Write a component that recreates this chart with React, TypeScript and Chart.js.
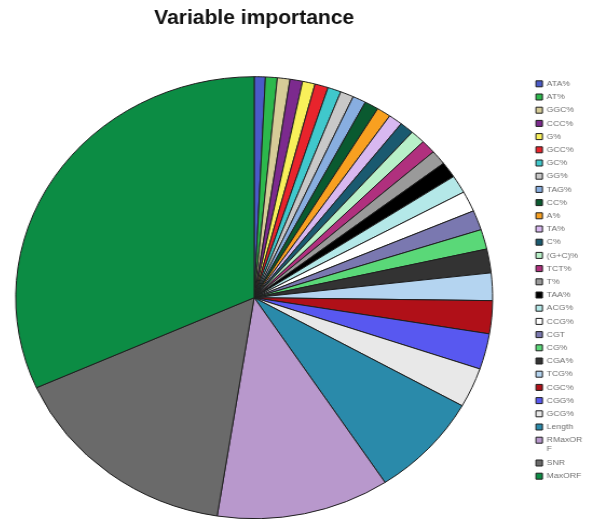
import { useEffect, useRef } from "react";
import { Chart, registerables } from "chart.js";

Chart.register(...registerables);

// Predictor names, in drawing order (clockwise from 12 o'clock)
const features: (string | string[])[] = [
  "ATA%", "AT%", "GGC%", "CCC%", "G%", "GCC%", "GC%", "GG%", "TAG%", "CC%",
  "A%", "TA%", "C%", "(G+C)%", "TCT%", "T%", "TAA%", "ACG%", "CCG%", "CGT",
  "CG%", "CGA%", "TCG%", "CGC%", "CGG%", "GCG%", "Length", ["RMaxOR", "F"], "SNR", "MaxORF",
];

// Relative importance of each predictor (%)
const importance = [
  0.75, 0.8, 0.85, 0.85, 0.85, 0.9, 0.9, 0.9, 0.9, 0.95,
  0.95, 0.95, 0.95, 1.0, 1.0, 1.06, 1.17, 1.3, 1.5, 1.44,
  1.44, 1.74, 2.0, 2.4, 2.6, 2.9, 7.6, 11.7, 15.8, 31.6,
];

const sliceColors = [
  "#4a5ac8", "#2cb84c", "#d6cc98", "#7c2a8e", "#f8f05a", "#e8242c", "#40c8cc", "#c8c8c8", "#88aee0", "#0a5a30",
  "#f8a020", "#d8b8f0", "#1a5a70", "#b8f0c8", "#b0307e", "#9a9a9a", "#000000", "#b4e8e8", "#ffffff", "#7a78b0",
  "#5ad878", "#333333", "#b4d4f0", "#b01018", "#5858f0", "#e8e8e8", "#2a8aaa", "#b898cc", "#6a6a6a", "#0c8c44",
];

// The figure is drawn on a 548-unit-wide layout and shown 590px wide.
// Hidden strips on both sides place the plot area and the legend.
const SCALE = 590 / 548;
const HIDDEN_LEFT = 20;
const HIDDEN_RIGHT = 2.8;
const DRAW_W = 548 + HIDDEN_LEFT + HIDDEN_RIGHT;
const DRAW_H = 560;

export default function App() {
  const canvasRef = useRef<HTMLCanvasElement>(null);

  useEffect(() => {
    const canvas = canvasRef.current;
    if (!canvas) return;
    const chart = new Chart(canvas, {
      type: "pie",
      data: {
        labels: features,
        datasets: [
          {
            data: importance,
            backgroundColor: sliceColors,
            borderColor: "#1e1e1e",
            borderWidth: 1,
            radius: 221,
          },
        ],
      },
      options: {
        responsive: false,
        animation: false,
        devicePixelRatio: 1,
        layout: { padding: 0 },
        plugins: {
          title: {
            display: true,
            text: "Variable importance",
            fullSize: false,
            color: "#111",
            font: { family: "Liberation Sans", size: 19.5, weight: "bold", lineHeight: 1.2 },
            padding: { top: 7, bottom: 5 },
          },
          legend: {
            position: "right",
            align: "center",
            labels: {
              boxWidth: 6,
              boxHeight: 6,
              padding: 5.2,
              color: "#6e6e6e",
              font: { family: "Liberation Sans", size: 8, lineHeight: 1.1 },
            },
          },
          tooltip: { enabled: false },
        },
      },
    });
    return () => chart.destroy();
  }, []);

  return (
    <div
      style={{
        position: "fixed",
        left: 0,
        top: 0,
        width: 590,
        height: 519,
        overflow: "hidden",
        background: "#fff",
      }}
    >
      <canvas
        ref={canvasRef}
        width={DRAW_W}
        height={DRAW_H}
        style={{
          width: `${DRAW_W * SCALE}px`,
          height: `${DRAW_H}px`,
          marginLeft: `${-HIDDEN_LEFT * SCALE}px`,
          display: "block",
        }}
      />
    </div>
  );
}
